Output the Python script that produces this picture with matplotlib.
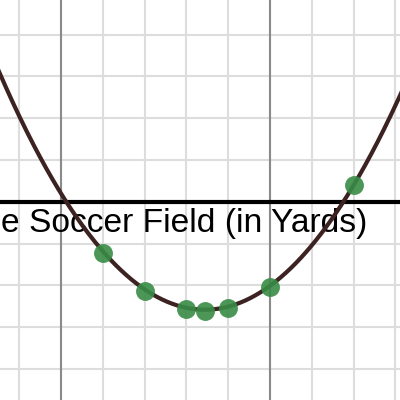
import matplotlib
matplotlib.use('Agg')
import matplotlib.pyplot as plt
import numpy as np

# punkte (x in yards, y)
x_pts = [10, 20, 30, 34.5, 40, 50, 70]
y_pts = [-12.3, -21.3, -25.7, -26.2, -25.3, -20.4, 4.0]

# parabel in scheitelform
vertex_x = 34.4
vertex_y = -25.8
curv = 0.0235

label = 'e Soccer Field (in Yards)'

fig = plt.figure(figsize=(4, 4), dpi=100)
ax = fig.add_axes([0, 0, 1, 1])
ax.set_xlim(-14.6, 81.1)
ax.set_ylim(-47.4, 48.3)

# gitter
for gx in np.arange(-10, 90, 10):
    ax.axvline(gx, color='#dddddd', lw=1.5, zorder=0)
for gy in np.arange(-40, 50, 10):
    ax.axhline(gy, color='#dddddd', lw=1.5, zorder=0)
for gx in [0, 50]:
    ax.axvline(gx, color='#8a8a8a', lw=1.5, zorder=1)
ax.axhline(0, color='black', lw=3, zorder=2)

ax.text(73.4, -7.3, label, ha='right', va='baseline', fontsize=24.2,
        family='Liberation Sans', color='black', zorder=2.5)

xs = np.linspace(-15, 82, 400)
ax.plot(xs, vertex_y + curv * (xs - vertex_x) ** 2, color='#3d2222', lw=3, zorder=3)
ax.scatter(x_pts, y_pts, s=185, color='#388c46', alpha=0.9, lw=0, zorder=4)

ax.axis('off')
fig.savefig('out.png', dpi=100)
